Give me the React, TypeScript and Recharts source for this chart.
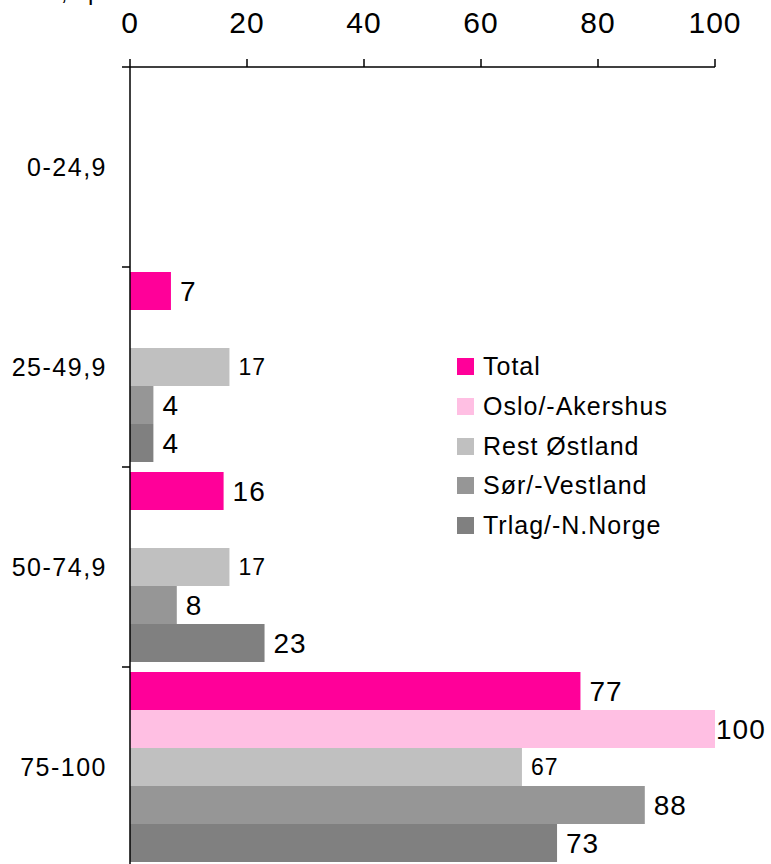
import { Bar, BarChart, LabelList, XAxis, YAxis } from "recharts"

// categories (income groups) and the five series
const categories = ["0-24,9", "25-49,9", "50-74,9", "75-100"]
const total = [null, 7, 16, 77]
const osloAkershus = [null, null, null, 100]
const restOstland = [null, 17, 17, 67]
const sorVestland = [null, 4, 8, 88]
const trlagNNorge = [null, 4, 23, 73]
const xTicks = [0, 20, 40, 60, 80, 100]

const series = [
  { key: "total", name: "Total", color: "#FF0099", labelSize: 28, labelOffset: 9 },
  { key: "oslo", name: "Oslo/-Akershus", color: "#FFBFE3", labelSize: 28, labelOffset: 1 },
  { key: "rest", name: "Rest Østland", color: "#C0C0C0", labelSize: 23, labelOffset: 9 },
  { key: "sor", name: "Sør/-Vestland", color: "#969696", labelSize: 28, labelOffset: 9 },
  { key: "trlag", name: "Trlag/-N.Norge", color: "#808080", labelSize: 28, labelOffset: 9 },
]

const data = categories.map((name, i) => ({
  name,
  total: total[i],
  oslo: osloAkershus[i],
  rest: restOstland[i],
  sor: sorVestland[i],
  trlag: trlagNNorge[i],
}))

const FONT = "'Liberation Sans', Arial, sans-serif"
const CHART_H = 900
const PLOT_TOP = 67
const PLOT_BOTTOM = 33
const BAND = (CHART_H - PLOT_TOP - PLOT_BOTTOM) / categories.length

// label at the band centre plus a small tick at the band's upper boundary
const CategoryTick = (props: any) => {
  const { x, y, payload } = props
  return (
    <g>
      <text
        x={x}
        y={y}
        dy="0.35em"
        textAnchor="end"
        fontSize={25}
        fontFamily={FONT}
        letterSpacing={1.5}
        fill="#000"
      >
        {payload.value}
      </text>
      <line x1={x + 15} x2={x + 23} y1={y - BAND / 2} y2={y - BAND / 2} stroke="#000" strokeWidth={1.5} />
    </g>
  )
}

const LegendBox = () => (
  <div
    style={{
      position: "absolute",
      top: 347,
      left: 457,
      fontFamily: FONT,
      fontSize: 25,
      letterSpacing: 1,
      color: "#000",
    }}
  >
    {series.map((s) => (
      <div key={s.key} style={{ display: "flex", alignItems: "center", height: 39.7, whiteSpace: "nowrap" }}>
        <span style={{ width: 17, height: 17, background: s.color, display: "inline-block", marginRight: 9 }} />
        <span>{s.name}</span>
      </div>
    ))}
  </div>
)

export default function App() {
  return (
    <div style={{ position: "fixed", top: 0, left: 0, width: 771, height: 864, overflow: "hidden", background: "#fff" }}>
      <div
        style={{
          position: "absolute",
          top: -22,
          left: -22,
          fontFamily: FONT,
          fontSize: 24,
          whiteSpace: "nowrap",
          wordSpacing: 14,
        }}
      >
        Prosent, pr.
      </div>
      <BarChart
        width={771}
        height={CHART_H}
        data={data}
        layout="vertical"
        margin={{ top: 0, right: 56, bottom: PLOT_BOTTOM, left: 0 }}
        barCategoryGap={5}
        barGap={0}
      >
        <XAxis
          type="number"
          orientation="top"
          domain={[0, 100]}
          ticks={xTicks}
          height={PLOT_TOP}
          tickSize={8}
          tickMargin={26}
          stroke="#000"
          axisLine={{ stroke: "#000", strokeWidth: 1.5 }}
          tickLine={{ stroke: "#000", strokeWidth: 1.5 }}
          tick={{ fontSize: 30, fontFamily: FONT, fill: "#000", letterSpacing: 1 }}
        />
        <YAxis
          type="category"
          dataKey="name"
          width={130}
          tickSize={8}
          tickMargin={15}
          tickLine={false}
          axisLine={{ stroke: "#000", strokeWidth: 1.5 }}
          tick={<CategoryTick />}
        />
        {series.map((s) => (
          <Bar key={s.key} dataKey={s.key} name={s.name} fill={s.color} isAnimationActive={false}>
            <LabelList
              dataKey={s.key}
              position="right"
              offset={s.labelOffset}
              fill="#000"
              fontSize={s.labelSize}
              fontFamily={FONT}
              letterSpacing={1}
            />
          </Bar>
        ))}
      </BarChart>
      <LegendBox />
    </div>
  )
}
